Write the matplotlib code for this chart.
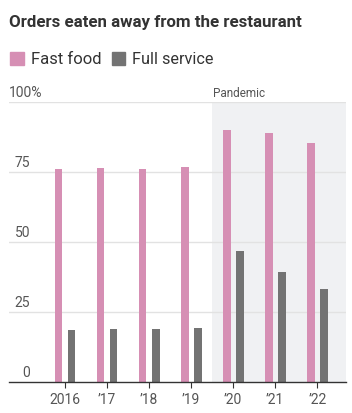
import matplotlib
matplotlib.use("Agg")
import matplotlib.pyplot as plt
from matplotlib.patches import Rectangle

plt.rcParams['font.family'] = ['Roboto', 'DejaVu Sans']

years = [2016, 2017, 2018, 2019, 2020, 2021, 2022]
tick_labels = ['2016', '\u201917', '\u201918', '\u201919', '\u201920', '\u201921', '\u201922']
fast_food = [76.2, 76.3, 76.2, 76.8, 89.9, 88.8, 85.2]
full_service = [18.4, 18.9, 18.9, 19.3, 46.9, 39.4, 33.3]
y_ticks = [0, 25, 50, 75, 100]
y_tick_labels = ['0', '25', '50', '75', '100%']
series_names = ['Fast food', 'Full service']

PINK = '#d68fb4'
GRAY = '#737373'
SHADE = '#f0f1f3'
GRID = '#e2e2e2'
TXT = '#333333'
LAB = '#555555'

W, H = 352, 413
fig = plt.figure(figsize=(W / 100, H / 100), dpi=100)

def fx(px):
    return px / W

def fy(py):
    return 1 - py / H

ax = fig.add_axes([fx(9), fy(382), fx(346) - fx(9), (382 - 102) / H])
ax.set_xlim(2014.667, 2022.683)
ax.set_ylim(0, 100)

# pandemic shading
ax.axvspan(2019.5, 2022.683, ymin=0, ymax=1, color=SHADE, zorder=0, lw=0)

for yv in y_ticks[1:]:
    ax.axhline(yv, color=GRID, lw=1, zorder=1)

off = 0.155
w = 0.185
ax.bar([y - off for y in years], fast_food, width=w, color=PINK, zorder=2)
ax.bar([y + off for y in years], full_service, width=w, color=GRAY, zorder=2)

for s in ['top', 'right', 'left']:
    ax.spines[s].set_visible(False)
ax.spines['bottom'].set_color('#333333')
ax.spines['bottom'].set_linewidth(1.0)
ax.spines['bottom'].set_zorder(3)

ax.set_xticks(years)
ax.set_xticklabels(tick_labels, fontsize=10, color=LAB)
ax.tick_params(axis='x', length=4, width=0.8, color='#333333', pad=4)
ax.set_yticks([])

# y labels
for yv, lab in zip(y_ticks, y_tick_labels):
    ypix = 382 - yv * 2.8
    if lab.endswith('%'):
        fig.text(fx(9), fy(ypix - 2), lab, ha='left', va='bottom', fontsize=10, color=LAB)
    else:
        fig.text(fx(30), fy(ypix - 2), lab, ha='right', va='bottom', fontsize=10, color=LAB)

fig.text(fx(213), fy(100), 'Pandemic', ha='left', va='bottom', fontsize=8.5, color=LAB)

# title
fig.text(fx(9), fy(27), 'Orders eaten away from the restaurant', ha='left', va='baseline',
         fontsize=12.2, fontweight='bold', color=TXT)

# legend
fig.patches.append(Rectangle((fx(10), fy(65)), fx(24) - fx(10), (65 - 52) / H,
                             transform=fig.transFigure, color=PINK))
fig.text(fx(31), fy(64), series_names[0], ha='left', va='baseline', fontsize=12, color=TXT)
fig.patches.append(Rectangle((fx(112), fy(65)), fx(125) - fx(112), (65 - 52) / H,
                             transform=fig.transFigure, color=GRAY))
fig.text(fx(132), fy(64), series_names[1], ha='left', va='baseline', fontsize=11.7, color=TXT)

fig.savefig('out.png', dpi=100, facecolor='white')
